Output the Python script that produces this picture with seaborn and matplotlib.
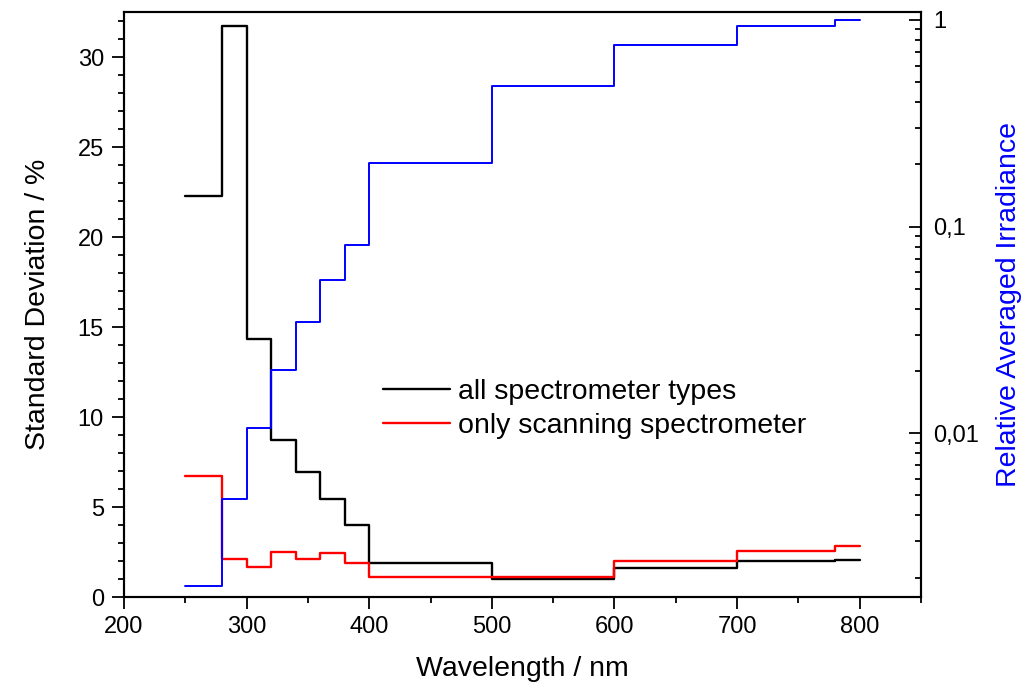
import matplotlib
matplotlib.use("Agg")
import matplotlib.pyplot as plt
import matplotlib.ticker as mticker
import seaborn as sns
import pandas as pd

# Step edges (nm) and values per band
edges = [250, 280, 300, 320, 340, 360, 380, 400, 500, 600, 700, 780, 800]
std_all = [22.3, 31.7, 14.35, 8.72, 6.93, 5.46, 3.98, 1.89, 0.98, 1.63, 2.0, 2.07]
std_scan = [6.72, 2.11, 1.67, 2.52, 2.11, 2.44, 1.89, 1.13, 1.13, 2.02, 2.56, 2.85]
irradiance = [0.00182, 0.00481, 0.01057, 0.0203, 0.0347, 0.0549, 0.0811,
              0.203, 0.477, 0.757, 0.938, 1.0]

labels = ["all spectrometer types", "only scanning spectrometer"]
right_ticks = [0.01, 0.1, 1]
right_ticklabels = ["0,01", "0,1", "1"]


def steps(vals):
    return list(vals) + [vals[-1]]


df = pd.DataFrame({
    "wl": edges,
    "all": steps(std_all),
    "scan": steps(std_scan),
    "irr": steps(irradiance),
})

sns.set_style("ticks")
plt.rcParams["font.family"] = ["Liberation Sans", "DejaVu Sans"]
plt.rcParams.update({"text.color": "black", "axes.labelcolor": "black",
                     "xtick.color": "black", "ytick.color": "black",
                     "axes.edgecolor": "black"})

fig = plt.figure(figsize=(10.23, 6.88), dpi=100)
ax = fig.add_axes([124 / 1023, 1 - 597 / 688, (921 - 124) / 1023, (597 - 12) / 688])

sns.lineplot(data=df, x="wl", y="all", ax=ax, color="black", lw=1.7,
             drawstyle="steps-post", label=labels[0], sort=False, estimator=None)
sns.lineplot(data=df, x="wl", y="scan", ax=ax, color="#ff0000", lw=1.7,
             drawstyle="steps-post", label=labels[1], sort=False, estimator=None)

ax.set_xlim(200, 850)
ax.set_ylim(0, 32.5)
ax.set_xticks([200, 300, 400, 500, 600, 700, 800])
ax.xaxis.set_minor_locator(mticker.MultipleLocator(50))
ax.set_yticks([0, 5, 10, 15, 20, 25, 30])
ax.yaxis.set_minor_locator(mticker.MultipleLocator(1))
ax.tick_params(axis="both", which="major", direction="out", length=8.5, width=1.3,
               labelsize=17, colors="black")
ax.tick_params(axis="both", which="minor", direction="out", length=4.5, width=1.3,
               colors="black")
ax.tick_params(axis="x", pad=5)
ax.tick_params(axis="y", pad=6)
ax.set_xlabel("Wavelength / nm", fontsize=20.5, labelpad=13, color="black")
ax.set_ylabel("Standard Deviation / %", fontsize=20.5, labelpad=19, color="black")
for s in ax.spines.values():
    s.set_linewidth(1.5)
    s.set_color("black")
    s.set_visible(True)

ax2 = ax.twinx()
sns.lineplot(data=df, x="wl", y="irr", ax=ax2, color="#0000ff", lw=1.4,
             drawstyle="steps-post", sort=False, estimator=None, legend=False)
ax2.set_yscale("log")
ax2.set_ylim(0.00161, 1.093)
ax2.yaxis.set_major_locator(mticker.FixedLocator(right_ticks))
ax2.yaxis.set_major_formatter(mticker.FixedFormatter(right_ticklabels))
ax2.yaxis.set_minor_locator(mticker.LogLocator(base=10, subs=range(2, 10), numticks=20))
ax2.yaxis.set_minor_formatter(mticker.NullFormatter())
ax2.tick_params(axis="y", which="major", direction="in", length=9, width=1.3,
                labelsize=17, pad=9, colors="black")
ax2.tick_params(axis="y", which="minor", direction="in", length=4.5, width=1.3,
                colors="black")
ax2.set_ylabel("Relative Averaged Irradiance", fontsize=20.5, color="#0000ff",
               labelpad=12)
ax2.set_xlim(200, 850)
for s in ax2.spines.values():
    s.set_linewidth(1.5)
    s.set_color("black")

leg = ax.legend(loc="center left", bbox_to_anchor=(383 / 1023, 1 - 409 / 688),
                bbox_transform=fig.transFigure, frameon=False, fontsize=20.5,
                handlelength=2.35, handletextpad=0.3, labelspacing=0.3,
                borderpad=0, borderaxespad=0)
for h in leg.get_lines():
    h.set_linewidth(1.7)
for t in leg.get_texts():
    t.set_color("black")

fig.savefig("out.png", dpi=100)
